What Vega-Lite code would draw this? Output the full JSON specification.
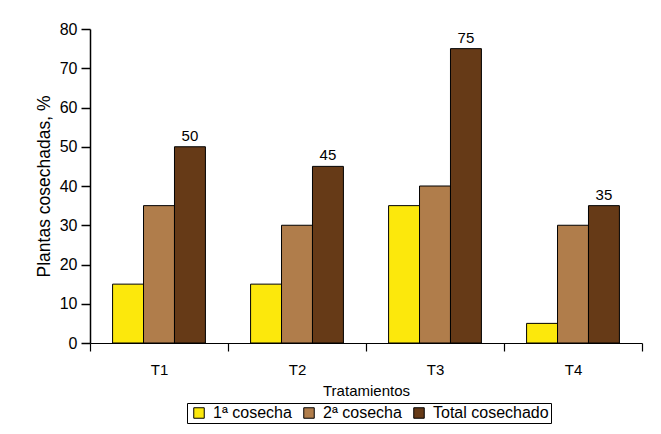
{
  "$schema": "https://vega.github.io/schema/vega-lite/v6.json",
  "autosize": {"type": "none"},
  "width": 552,
  "height": 314,
  "padding": {"left": 90, "top": 29, "right": 19, "bottom": 91},
  "background": "white",
  "config": {
    "font": "Liberation Sans",
    "view": {"stroke": null},
    "axis": {"domainColor": "black", "tickColor": "black", "labelColor": "black", "titleColor": "black", "grid": false, "labelFont": "Liberation Sans", "titleFont": "Liberation Sans", "titleFontWeight": "normal"}
  },
  "data": {
    "values": [
      {"t": "T1", "serie": "1ª cosecha", "v": 15},
      {"t": "T1", "serie": "2ª cosecha", "v": 35},
      {"t": "T1", "serie": "Total cosechado", "v": 50},
      {"t": "T2", "serie": "1ª cosecha", "v": 15},
      {"t": "T2", "serie": "2ª cosecha", "v": 30},
      {"t": "T2", "serie": "Total cosechado", "v": 45},
      {"t": "T3", "serie": "1ª cosecha", "v": 35},
      {"t": "T3", "serie": "2ª cosecha", "v": 40},
      {"t": "T3", "serie": "Total cosechado", "v": 75},
      {"t": "T4", "serie": "1ª cosecha", "v": 5},
      {"t": "T4", "serie": "2ª cosecha", "v": 30},
      {"t": "T4", "serie": "Total cosechado", "v": 35}
    ]
  },
  "encoding": {
    "x": {
      "field": "t", "type": "nominal",
      "scale": {"paddingInner": 0, "paddingOuter": 0},
      "axis": {"title": "Tratamientos", "labelAngle": 0, "tickBand": "extent", "tickSize": 8, "labelFontSize": 15, "titleFontSize": 15, "labelPadding": 11, "titlePadding": 6, "domainWidth": 1.2, "tickWidth": 1.2}
    },
    "xOffset": {"field": "serie", "type": "nominal", "scale": {"paddingInner": 0, "paddingOuter": 0.73}},
    "y": {
      "field": "v", "type": "quantitative",
      "scale": {"domain": [0, 80]},
      "axis": {"title": "Plantas cosechadas, %", "values": [0, 10, 20, 30, 40, 50, 60, 70, 80], "labelOverlap": false, "tickSize": 9, "labelFontSize": 16, "titleFontSize": 17.5, "labelPadding": 4, "titlePadding": 6, "domainWidth": 1.5, "tickWidth": 1.5}
    }
  },
  "layer": [
    {
      "mark": {"type": "bar", "stroke": "black", "strokeWidth": 1},
      "encoding": {
        "color": {
          "field": "serie", "type": "nominal",
          "scale": {"domain": ["1ª cosecha", "2ª cosecha", "Total cosechado"], "range": ["#FCE80C", "#B07D4B", "#663A17"]},
          "legend": {"title": null, "orient": "none", "legendX": 97, "legendY": 374, "direction": "horizontal", "symbolType": "square", "symbolSize": 110, "symbolStrokeColor": "black", "symbolStrokeWidth": 1, "labelFontSize": 16, "labelColor": "black", "labelFont": "Liberation Sans", "strokeColor": "black", "padding": 2, "columnPadding": 7, "symbolOffset": 2, "labelOffset": 6}
        }
      }
    },
    {
      "transform": [{"filter": "datum.serie == 'Total cosechado'"}],
      "mark": {"type": "text", "baseline": "bottom", "dy": -3, "fontSize": 15, "color": "black"},
      "encoding": {"text": {"field": "v", "type": "quantitative"}}
    }
  ]
}
